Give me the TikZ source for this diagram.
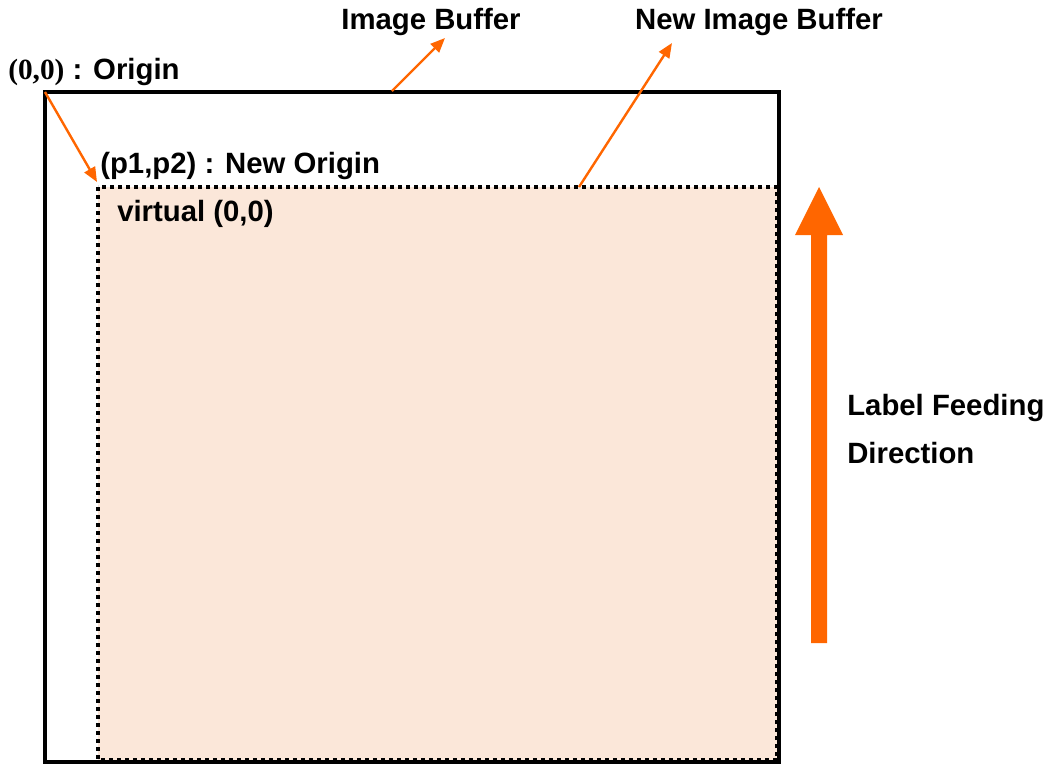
\documentclass[tikz,border=0pt]{standalone}
\usepackage{fontspec}
\setmainfont{Liberation Sans}
\newfontfamily\serifbold{Liberation Serif}
\usetikzlibrary{arrows.meta}
\definecolor{feedorange}{RGB}{255,102,0}
\definecolor{bufferfill}{RGB}{251,231,217}
\tikzset{
	lbl/.style={inner sep=0pt, font=\fontsize{22}{26}\selectfont\bfseries},
	pointer/.style={draw=feedorange, line width=1.8pt, -{Triangle[length=11pt,width=9pt]}},
	dotline/.style={line width=3pt, dash pattern={on 3pt off 3pt}},
}

\begin{document}
\begin{tikzpicture}[x=0.75pt,y=0.75pt,yscale=-1,xscale=1]
	\useasboundingbox (0,0) rectangle (1047,765);
	% new image buffer
	\coordinate (newNW) at (98,187);
	\coordinate (newSE) at (777,760);
	\fill [bufferfill] (newNW) rectangle (newSE);
	\draw [dotline] (newNW) rectangle (newSE);
	% image buffer
	\coordinate (bufNW) at (45,92);
	\coordinate (bufSE) at (779,762);
	\draw [line width=3.6pt] (bufNW) rectangle (bufSE);

	\node [lbl, anchor=base west] (origin) at (8,79) {{\serifbold (0,0)} : Origin};
	\node [lbl, anchor=base west] (neworigin) at (100,173) {(p1,p2) : New Origin};
	\node [lbl, anchor=base west] (virtual) at (117,221) {virtual (0,0)};
	\node [lbl, anchor=base] (imgbuf) at (431,29) {Image Buffer};
	\node [lbl, anchor=base] (newbuf) at (759,29) {New Image Buffer};
	\node [lbl, anchor=base west] (feed) at (847,415) {Label Feeding};
	\node [lbl, anchor=base west] (direction) at (847,463) {Direction};

	\coordinate (origintip) at (97,182);
	\coordinate (bufedge) at (392,91);
	\coordinate (buftip) at (445,38);
	\coordinate (newedge) at (579,187);
	\coordinate (newtip) at (672,43);
	\draw [pointer] (bufNW) -- (origintip);
	\draw [pointer] (bufedge) -- (buftip);
	\draw [pointer] (newedge) -- (newtip);

	\fill [feedorange] (811,643) -- (811,235) -- (795,235) -- (819,187) -- (843,235) -- (827,235) -- (827,643) -- cycle;
\end{tikzpicture}
\end{document}
